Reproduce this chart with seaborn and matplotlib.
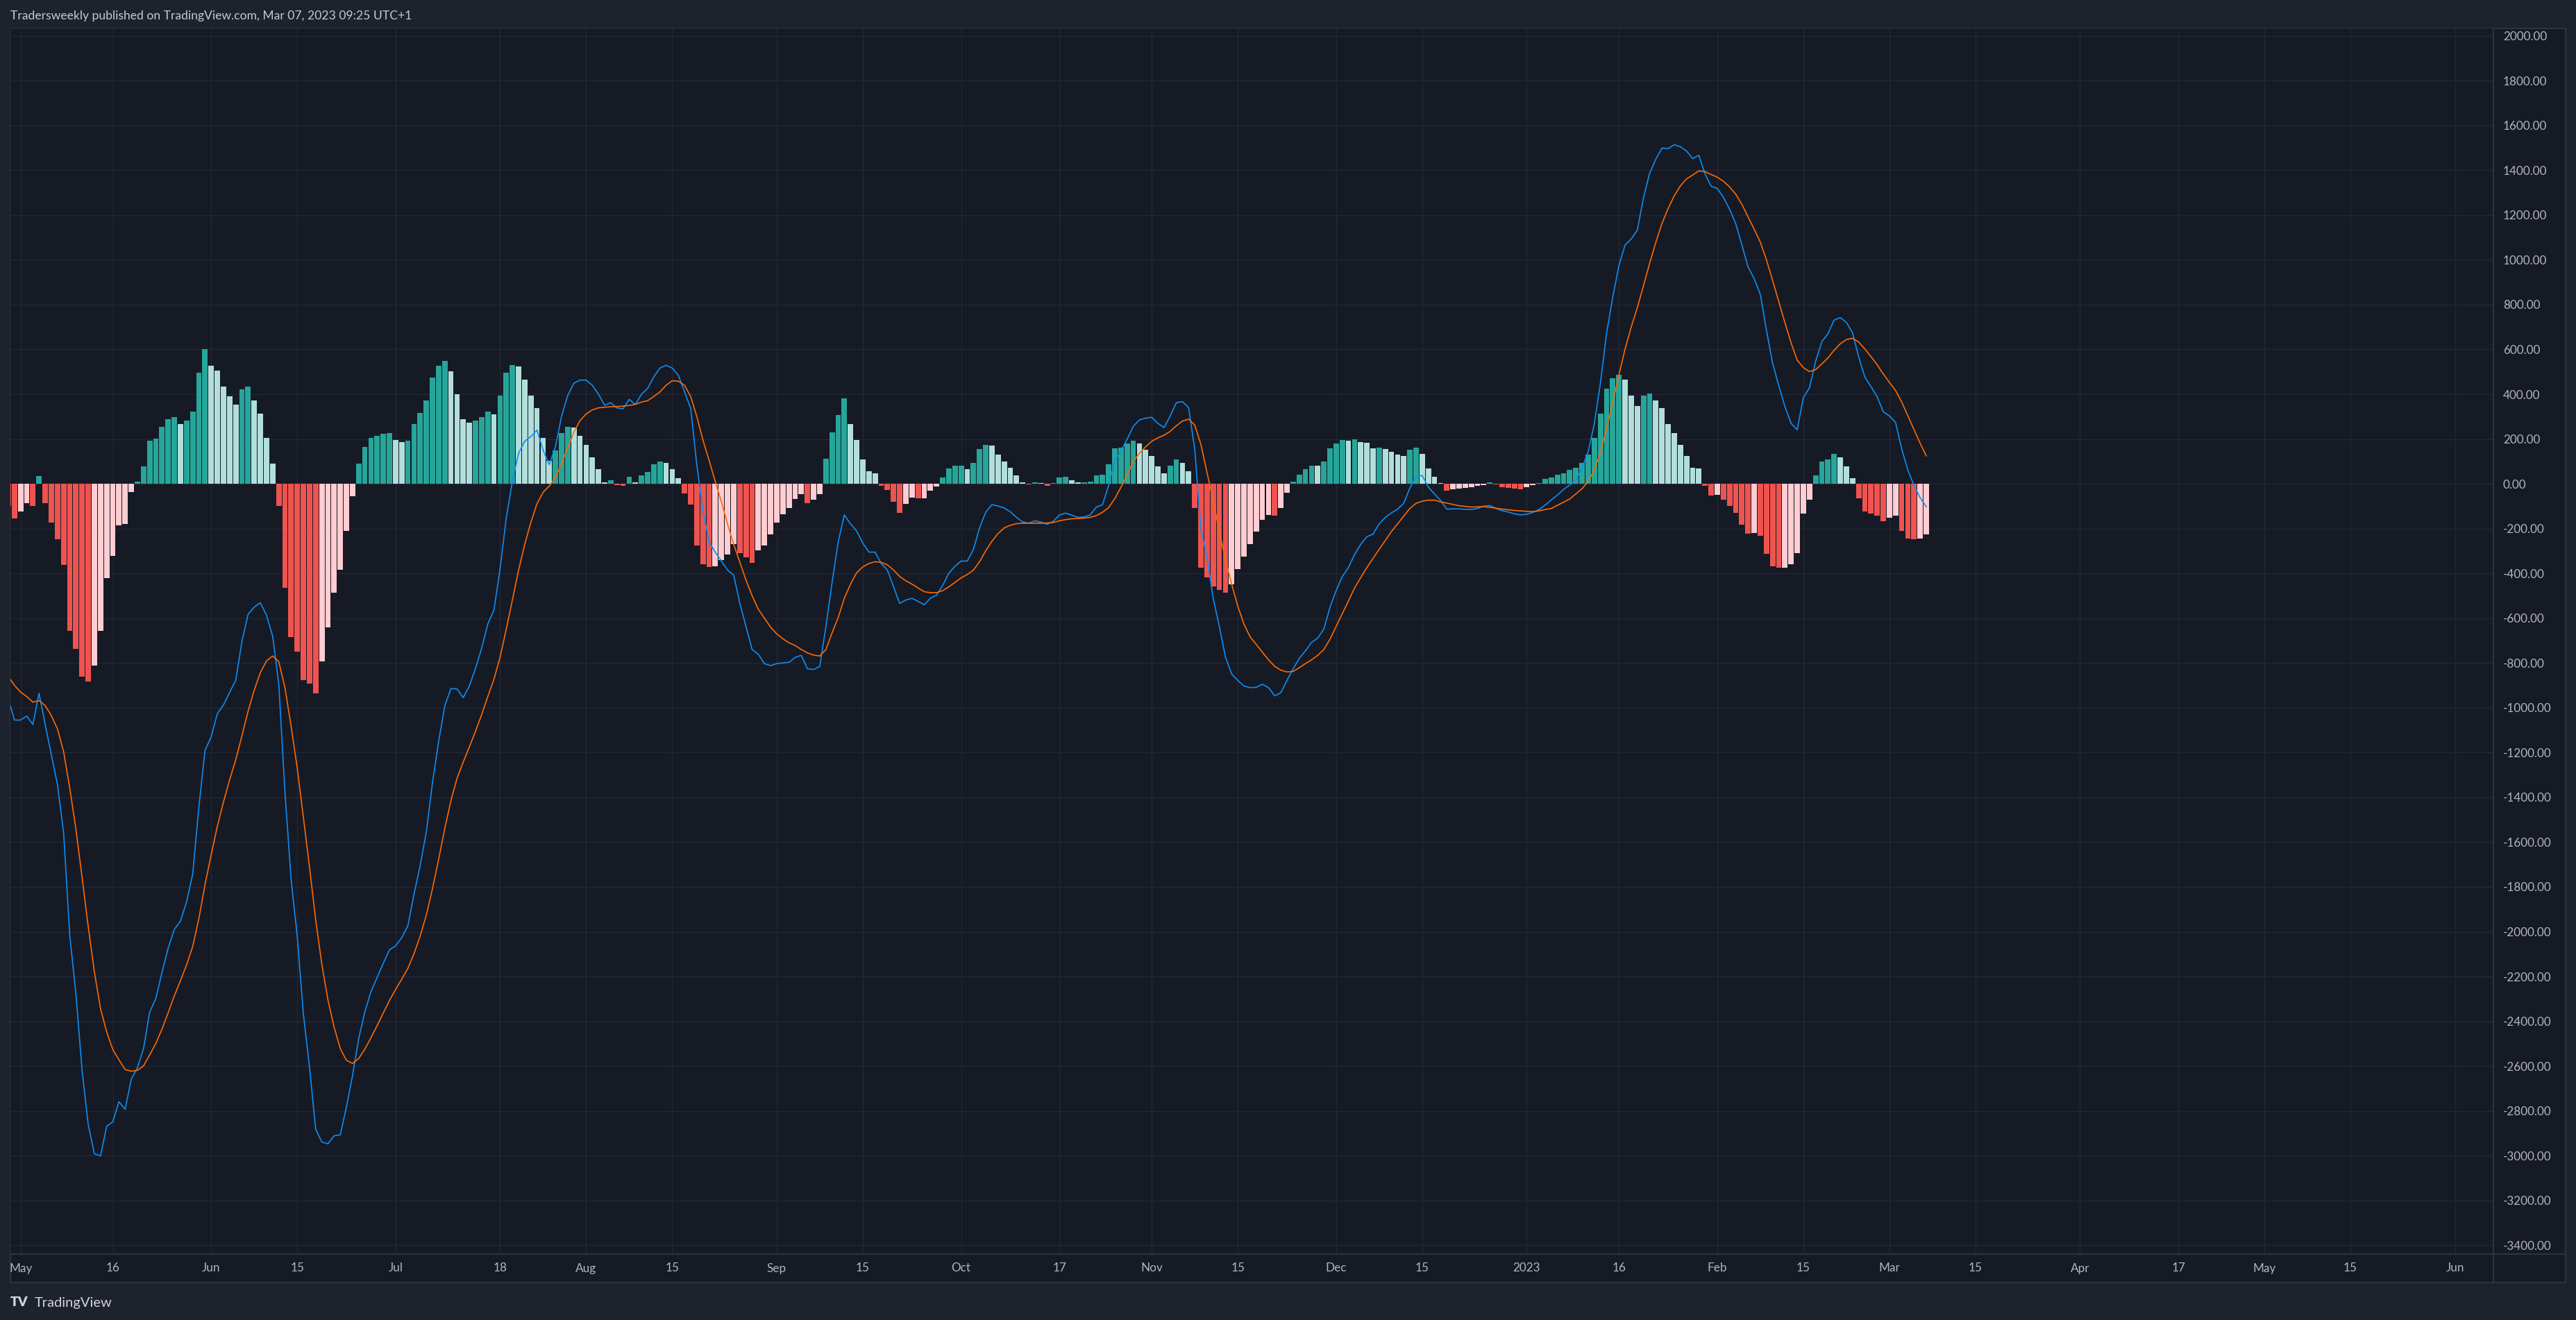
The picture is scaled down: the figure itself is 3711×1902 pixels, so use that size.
import numpy as np
import pandas as pd
import matplotlib
matplotlib.use("Agg")
import matplotlib.pyplot as plt
import matplotlib.dates as mdates
import seaborn as sns
from matplotlib.patches import Rectangle
from matplotlib.lines import Line2D

# ---------------- data (daily, 2022-04-29 .. 2023-03-07) ----------------
start_date = "2022-04-29"

hist_values = [
    -99, -156,
    # May
    -125, -87, -100, 33, -85, -174, -249, -363, -658, -736, -862, -884, -812, -658, -422, -323,
    -187, -178, -36, 11, 77, 191, 201, 253, 288, 297, 266, 281, 324, 497, 600,
    # Jun
    526, 504, 433, 390, 355, 421, 433, 371, 312, 204, 89, -100, -465, -685, -751, -878,
    -893, -936, -794, -642, -485, -385, -209, -54, 89, 166, 206, 215, 222, 226,
    # Jul
    195, 185, 191, 266, 315, 371, 473, 526, 548, 501, 399, 288, 272, 281, 297, 324,
    309, 395, 497, 529, 523, 464, 393, 337, 204, 102, 148, 226, 253, 250, 213,
    # Aug
    173, 117, 64, 8, 17, -6, -9, 30, 6, 37, 52, 86, 99, 92, 64, 24,
    -44, -93, -275, -359, -371, -368, -340, -316, -269, -309, -328, -353, -297, -275, -226,
    # Sep
    -173, -136, -108, -68, -46, -86, -71, -46, 111, 229, 306, 380, 268, 195, 108, 55,
    46, -10, -29, -81, -130, -91, -63, -66, -64, -31, -13, 28, 68, 80,
    # Oct
    82, 64, 92, 154, 175, 170, 132, 99, 73, 37, 8, -3, 7, 2, -10, 2,
    28, 30, 17, 5, 7, 11, 39, 40, 86, 157, 163, 179, 191, 179, 151,
    # Nov
    123, 77, 46, 82, 108, 92, 55, -109, -376, -418, -458, -474, -487, -449, -382, -325,
    -270, -214, -162, -140, -143, -107, -41, 11, 42, 64, 82, 80, 99, 157,
    # Dec
    179, 197, 191, 198, 185, 182, 157, 160, 154, 142, 130, 123, 151, 163, 135, 68,
    30, 2, -32, -24, -22, -17, -15, -10, -6, 6, -3, -16, -19, -20, -23,
    # Jan
    -16, -6, 2, 21, 28, 42, 48, 61, 73, 92, 132, 206, 312, 426, 470, 488,
    464, 393, 346, 393, 402, 371, 337, 268, 228, 175, 125, 73, 70, -10, -52,
    # Feb
    -50, -72, -100, -131, -181, -223, -221, -233, -314, -369, -376, -375, -360, -311, -134, -72,
    37, 99, 108, 135, 117, 77, 24, -66, -125, -134, -143, -168,
    # Mar
    -150, -143, -209, -243, -249, -243, -227,
]

macd_values = [
    -960, -1055,
    # May
    -1055, -1037, -1075, -935, -1075, -1209, -1344, -1559, -2017, -2278, -2619, -2861, -2991, -3001, -2869, -2849,
    -2759, -2793, -2659, -2608, -2522, -2359, -2298, -2182, -2074, -1990, -1953, -1867, -1742, -1444, -1190,
    # Jun
    -1131, -1026, -988, -932, -877, -705, -583, -551, -531, -587, -680, -894, -1375, -1766, -2020, -2367,
    -2605, -2882, -2939, -2947, -2911, -2907, -2783, -2642, -2477, -2358, -2267, -2204, -2141, -2081,
    # Jul
    -2063, -2027, -1973, -1832, -1704, -1555, -1335, -1151, -992, -914, -916, -955, -903, -824, -734, -626,
    -564, -379, -153, 11, 136, 190, 211, 240, 150, 85, 165, 302, 394, 449, 463,
    # Aug
    463, 440, 400, 351, 362, 339, 335, 377, 354, 400, 426, 477, 517, 529, 517, 484,
    411, 337, 85, -121, -259, -305, -345, -385, -408, -534, -637, -740, -761, -803, -812,
    # Sep
    -803, -800, -797, -775, -766, -826, -829, -815, -637, -442, -259, -139, -179, -211, -265, -305,
    -305, -356, -385, -460, -534, -519, -511, -525, -540, -511, -497, -454, -399, -368,
    # Oct
    -345, -345, -293, -196, -127, -93, -99, -108, -125, -150, -170, -176, -165, -171, -181, -167,
    -139, -131, -140, -150, -148, -139, -104, -93, -7, 102, 148, 199, 257, 285, 293,
    # Nov
    297, 270, 251, 302, 362, 367, 340, 154, -202, -328, -511, -637, -775, -849, -878, -903,
    -910, -909, -895, -910, -947, -933, -878, -826, -780, -746, -708, -689, -649, -551,
    # Dec
    -477, -414, -374, -316, -270, -236, -225, -179, -150, -130, -113, -87, -18, 33, 37, -15,
    -45, -75, -113, -112, -112, -114, -115, -110, -100, -97, -110, -120, -126, -134, -139,
    # Jan
    -136, -128, -115, -95, -72, -50, -25, -5, 18, 70, 143, 268, 452, 673, 834, 974,
    1066, 1093, 1133, 1278, 1387, 1449, 1499, 1497, 1514, 1505, 1486, 1452, 1467, 1384, 1329,
    # Feb
    1319, 1279, 1226, 1162, 1067, 969, 916, 846, 686, 539, 438, 345, 270, 241, 385, 429,
    547, 634, 670, 731, 742, 721, 674, 567, 477, 434, 389, 322,
    # Mar
    303, 274, 156, 61, -7, -62, -103,
]

signal_values = [
    -860, -900,
    # May
    -930, -950, -975, -968, -990, -1035, -1095, -1196, -1359, -1542, -1757, -1977, -2179, -2343, -2447, -2526,
    -2572, -2615, -2623, -2619, -2599, -2550, -2499, -2435, -2362, -2287, -2219, -2148, -2066, -1941, -1790,
    # Jun
    -1657, -1530, -1421, -1322, -1232, -1126, -1016, -922, -843, -791, -769, -794, -910, -1081, -1269, -1489,
    -1712, -1946, -2145, -2305, -2426, -2522, -2574, -2588, -2566, -2524, -2473, -2419, -2363, -2307,
    # Jul
    -2258, -2212, -2164, -2098, -2019, -1926, -1808, -1677, -1540, -1415, -1315, -1243, -1175, -1105, -1031, -950,
    -873, -774, -650, -518, -387, -271, -173, -89, -38, -10, 28, 90, 160, 230, 282,
    # Aug
    312, 330, 339, 342, 344, 345, 347, 350, 355, 365, 371, 390, 410, 440, 460, 458,
    440, 390, 300, 195, 105, 10, -80, -180, -270, -350, -430, -500, -560, -600, -640,
    # Sep
    -670, -692, -710, -722, -740, -755, -765, -769, -740, -666, -597, -511, -448, -397, -371, -356,
    -348, -351, -362, -385, -414, -433, -448, -465, -482, -486, -486, -477, -460, -440,
    # Oct
    -420, -405, -385, -348, -299, -257, -222, -197, -185, -178, -176, -176, -176, -176, -175, -173,
    -165, -160, -156, -155, -153, -150, -142, -127, -106, -66, -15, 40, 100, 136, 165,
    # Nov
    190, 205, 217, 234, 259, 280, 289, 262, 176, 50, -76, -213, -339, -448, -546, -626,
    -683, -717, -752, -786, -815, -832, -840, -838, -821, -803, -786, -766, -740, -694,
    # Dec
    -637, -580, -523, -465, -419, -374, -333, -293, -253, -213, -179, -144, -110, -87, -78, -73,
    -73, -81, -86, -92, -98, -101, -104, -103, -102, -105, -109, -113, -116, -119, -121,
    # Jan
    -123, -124, -121, -115, -110, -96, -82, -68, -45, -22, 11, 62, 140, 247, 364, 486,
    602, 700, 787, 885, 985, 1078, 1162, 1229, 1286, 1330, 1361, 1379, 1397, 1394, 1381,
    # Feb
    1369, 1351, 1326, 1293, 1248, 1192, 1137, 1079, 1000, 908, 814, 720, 630, 552, 519, 501,
    510, 535, 562, 596, 625, 644, 650, 633, 602, 568, 532, 490,
    # Mar
    453, 417, 365, 304, 242, 181, 124,
]

ytick_values = list(range(-3400, 2001, 200))
xtick_dates = ["2022-05-01", "2022-05-16", "2022-06-01", "2022-06-15", "2022-07-01", "2022-07-18",
               "2022-08-01", "2022-08-15", "2022-09-01", "2022-09-15", "2022-10-01", "2022-10-17",
               "2022-11-01", "2022-11-15", "2022-12-01", "2022-12-15", "2023-01-01", "2023-01-16",
               "2023-02-01", "2023-02-15", "2023-03-01", "2023-03-15", "2023-04-01", "2023-04-17",
               "2023-05-01", "2023-05-15", "2023-06-01"]
xtick_labels = ["May", "16", "Jun", "15", "Jul", "18", "Aug", "15", "Sep", "15", "Oct", "17",
                "Nov", "15", "Dec", "15", "2023", "16", "Feb", "15", "Mar", "15", "Apr", "17",
                "May", "15", "Jun"]
title_text = "Tradersweekly published on TradingView.com, Mar 07, 2023 09:25 UTC+1"

# ---------------- styling ----------------
OUTER_BG = "#1e222d"
PANE_BG = "#161a25"
GRID = "#242835"
BORDER = "#2f3340"
TEXT = "#b2b5be"
COL_GROW_ABOVE = "#26a69a"
COL_FALL_ABOVE = "#b2dfdb"
COL_GROW_BELOW = "#ffcdd2"
COL_FALL_BELOW = "#ef5350"
MACD_COL = "#0c8ef5"
SIG_COL = "#ff6a00"

sns.set_theme(style="dark")
plt.rcParams["font.family"] = ["Lato", "DejaVu Sans"]

W, H = 3711, 1902
DPI = 100
fig = plt.figure(figsize=(W / DPI, H / DPI), dpi=DPI, facecolor=OUTER_BG)

def fx(px):
    return px / W

def fy(py):
    return 1 - py / H

# chart frame (pane + price axis + time axis)
fig.add_artist(Rectangle((fx(15), fy(1848)), fx(3696) - fx(15), fy(41) - fy(1848),
                         transform=fig.transFigure, facecolor=PANE_BG, edgecolor=BORDER,
                         linewidth=1.5, zorder=0))

left, right, top, bottom = 15, 3592, 41, 1807
ax = fig.add_axes([fx(left), fy(bottom), fx(right) - fx(left), fy(top) - fy(bottom)])
ax.set_facecolor(PANE_BG)

dates = pd.date_range(start_date, periods=len(hist_values), freq="D")
xnum = mdates.date2num(dates)

# histogram colours (TradingView MACD rule)
colors = []
prev = None
for v in hist_values:
    if v >= 0:
        c = COL_GROW_ABOVE if (prev is None or v > prev) else COL_FALL_ABOVE
    else:
        c = COL_GROW_BELOW if (prev is not None and v > prev) else COL_FALL_BELOW
    colors.append(c)
    prev = v

df = pd.DataFrame({"x": xnum, "hist": hist_values, "col": colors,
                   "macd": macd_values, "signal": signal_values})
palette = {c: c for c in [COL_GROW_ABOVE, COL_FALL_ABOVE, COL_GROW_BELOW, COL_FALL_BELOW]}

sns.barplot(data=df, x="x", y="hist", hue="col", palette=palette, native_scale=True,
            dodge=False, width=0.88, errorbar=None, legend=False, linewidth=0,
            saturation=1, ax=ax, zorder=2)
sns.lineplot(data=df, x="x", y="macd", color=MACD_COL, linewidth=1.2, ax=ax, zorder=3)
sns.lineplot(data=df, x="x", y="signal", color=SIG_COL, linewidth=1.2, ax=ax, zorder=4)

# scales
px_per_day = 8.856
x_jun1_22 = mdates.date2num(pd.Timestamp("2022-06-01"))
x_left = x_jun1_22 - (304.2 - left) / px_per_day
x_right = x_jun1_22 + (right - 304.2) / px_per_day
ax.set_xlim(x_left, x_right)
px_per_unit = (1794.3 - 51.7) / 5400.0
y_top = 2000 + (51.7 - top) / px_per_unit
y_bot = -3400 - (bottom - 1794.3) / px_per_unit
ax.set_ylim(y_bot, y_top)

# grid / ticks
ax.set_xticks(mdates.date2num(pd.to_datetime(xtick_dates)))
ax.set_xticklabels(xtick_labels)
ax.set_yticks(ytick_values)
ax.set_yticklabels([f"{v:.2f}" for v in ytick_values])
ax.grid(True, color=GRID, linewidth=1.0, zorder=0)
ax.set_axisbelow(True)
ax.yaxis.tick_right()
ax.tick_params(axis="y", length=0, pad=10, labelsize=12.3, labelcolor=TEXT)
ax.tick_params(axis="x", length=0, pad=9, labelsize=12.3, labelcolor=TEXT)
for lab in ax.get_yticklabels():
    lab.set_horizontalalignment("left")
ax.set_xlabel("")
ax.set_ylabel("")
for s in ax.spines.values():
    s.set_visible(False)

# separators of price / time axes
fig.add_artist(Line2D([fx(right), fx(right)], [fy(1848), fy(41)], transform=fig.transFigure,
                      color=BORDER, linewidth=1.5, zorder=5))
fig.add_artist(Line2D([fx(15), fx(3696)], [fy(bottom), fy(bottom)], transform=fig.transFigure,
                      color=BORDER, linewidth=1.5, zorder=5))

# header / footer text
fig.text(fx(15), fy(23), title_text, color="#c5c8d0", fontsize=12.6, ha="left", va="center")
fig.text(fx(15), fy(1877), "TV", color="#d1d4dc", fontsize=14, fontweight="heavy",
         ha="left", va="center")
fig.text(fx(50), fy(1877), "TradingView", color="#d1d4dc", fontsize=14.5, ha="left", va="center")

fig.savefig("out.png", dpi=DPI, facecolor=OUTER_BG)
